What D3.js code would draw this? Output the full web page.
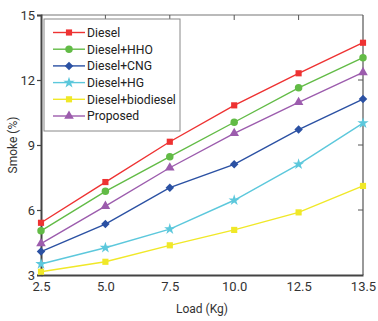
<!DOCTYPE html>
<html>
<head>
<meta charset="utf-8">
<script src="https://cdn.jsdelivr.net/npm/d3@7"></script>
<style>
body{margin:0;background:#fff;}
text{font-family:"Roboto","Liberation Sans",sans-serif;}
</style>
</head>
<body>
<script>
// data
var loads = ["2.5","5.0","7.5","10.0","12.5","13.5"];
var diesel     = [5.41, 7.29, 9.15, 10.83, 12.31, 13.72];
var dieselHHO  = [5.04, 6.86, 8.46, 10.05, 11.64, 13.03];
var dieselCNG  = [4.08, 5.35, 7.03, 8.11, 9.71, 11.12];
var dieselHG   = [3.51, 4.26, 5.12, 6.45, 8.11, 10.01];
var dieselBio  = [3.15, 3.61, 4.37, 5.08, 5.89, 7.11];
var proposed   = [4.45, 6.18, 7.95, 9.54, 10.97, 12.35];
var yTicks = [3, 6, 9, 12, 15];

var series = [
	{name:"Diesel", values:diesel, color:"#ee3232", sym:d3.symbolSquare, size:38, rot:0},
	{name:"Diesel+HHO", values:dieselHHO, color:"#62bb46", sym:d3.symbolCircle, size:44, rot:0},
	{name:"Diesel+CNG", values:dieselCNG, color:"#2b51a3", sym:d3.symbolSquare, size:36, rot:45},
	{name:"Diesel+HG", values:dieselHG, color:"#5cc8dc", sym:d3.symbolStar, size:40, rot:0},
	{name:"Diesel+biodiesel", values:dieselBio, color:"#f0e828", sym:d3.symbolSquare, size:38, rot:0},
	{name:"Proposed", values:proposed, color:"#9c5cad", sym:d3.symbolTriangle, size:40, rot:0}
];

var width = 378, height = 321;
var margin = {top: 15, right: 15, bottom: 46, left: 41};
var w = width - margin.left - margin.right,
	h = height - margin.top - margin.bottom;

var svg = d3.select("body").append("svg")
	.attr("width", width)
	.attr("height", height)
	.append("g")
	.attr("transform", "translate(" + margin.left + "," + margin.top + ")");

var x = d3.scalePoint().domain(loads).range([0, w]);
var y = d3.scaleLinear().domain([3, 15]).range([h, 0]);

// frame: top and right lighter
svg.append("line").attr("x1",0).attr("x2",w).attr("y1",0).attr("y2",0)
	.attr("stroke","#777").attr("stroke-width",1.2);
svg.append("line").attr("x1",w).attr("x2",w).attr("y1",0).attr("y2",h)
	.attr("stroke","#555").attr("stroke-width",1.2);

// top ticks (inward)
svg.append("g").selectAll("line").data(loads.slice(1, -1)).enter().append("line")
	.attr("x1", d => x(d)).attr("x2", d => x(d))
	.attr("y1", 0).attr("y2", 5)
	.attr("stroke", "#555");
// right ticks (inward)
svg.append("g").selectAll("line").data(yTicks.slice(1, -1)).enter().append("line")
	.attr("x1", w).attr("x2", w - 5)
	.attr("y1", d => y(d)).attr("y2", d => y(d))
	.attr("stroke", "#555");

var xAxis = d3.axisBottom(x).tickSize(0).tickPadding(7);
var xg = svg.append("g")
	.attr("transform", "translate(0," + h + ")")
	.call(xAxis);
xg.select(".domain").attr("stroke","#444").attr("stroke-width",2);
xg.selectAll("text").attr("font-size", 13).attr("fill", "#333");

var yAxis = d3.axisLeft(y).tickValues(yTicks).tickSize(4).tickPadding(2).tickFormat(d3.format("d"));
var yg = svg.append("g").call(yAxis);
yg.select(".domain").attr("stroke","#444").attr("stroke-width",2);
yg.selectAll(".tick line").attr("stroke","#444").attr("stroke-width",1.2);
yg.selectAll("text").attr("font-size", 13).attr("fill", "#333");

// axis titles
svg.append("text")
	.attr("x", w / 2).attr("y", h + 38)
	.attr("text-anchor", "middle")
	.attr("font-size", 12).attr("fill", "#333")
	.text("Load (Kg)");
svg.append("text")
	.attr("transform", "translate(" + (-24) + "," + (h / 2) + ")rotate(-90)")
	.attr("text-anchor", "middle")
	.attr("font-size", 12).attr("fill", "#333")
	.text("Smoke (%)");

var line = d3.line()
	.x((d, i) => x(loads[i]))
	.y(d => y(d));

series.forEach(function(s){
	svg.append("path")
		.datum(s.values)
		.attr("d", line)
		.attr("fill", "none")
		.attr("stroke", s.color)
		.attr("stroke-width", 1.4);
	svg.append("g").selectAll("path").data(s.values).enter().append("path")
		.attr("d", d3.symbol().type(s.sym).size(s.size))
		.attr("transform", (d, i) => "translate(" + x(loads[i]) + "," + y(d) + ")rotate(" + s.rot + ")")
		.attr("fill", s.color);
});

// legend
var lg = svg.append("g").attr("transform", "translate(3,4)");
lg.append("rect")
	.attr("width", 136).attr("height", 112)
	.attr("fill", "#fff").attr("stroke", "#888").attr("stroke-width", 1);
series.forEach(function(s, i){
	var yy = 13.5 + i * 16.7;
	lg.append("line").attr("x1", 9).attr("x2", 41).attr("y1", yy).attr("y2", yy)
		.attr("stroke", s.color).attr("stroke-width", 1.4);
	lg.append("path")
		.attr("d", d3.symbol().type(s.sym).size(s.size))
		.attr("transform", "translate(25," + yy + ")rotate(" + s.rot + ")")
		.attr("fill", s.color);
	lg.append("text")
		.attr("x", 43).attr("y", yy + 4.3)
		.attr("font-size", 12.2).attr("fill", "#222")
		.text(s.name);
});
</script>
</body>
</html>
